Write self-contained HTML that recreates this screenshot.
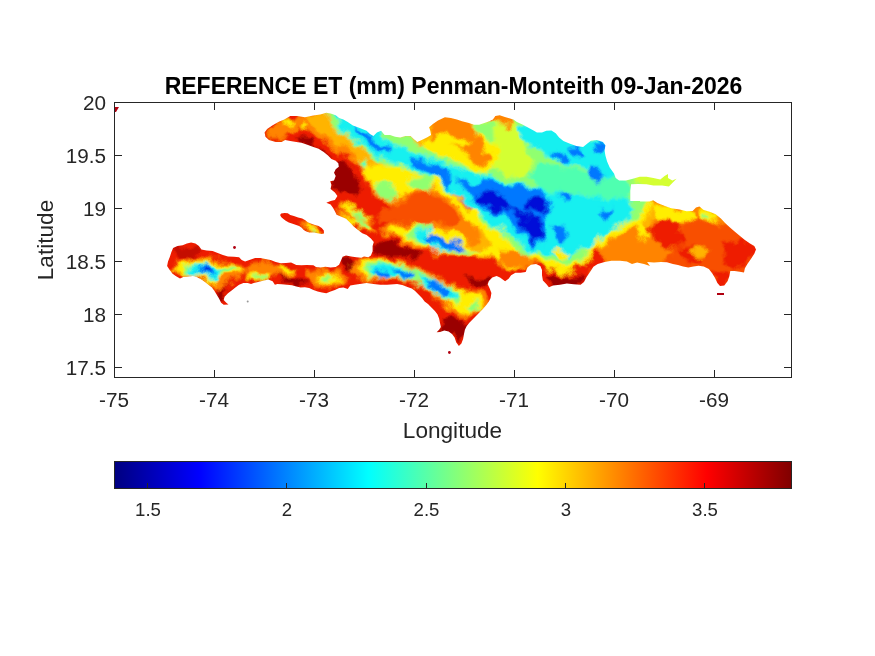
<!DOCTYPE html>
<html><head><meta charset="utf-8">
<style>
html,body{margin:0;padding:0;background:#fff;}
body{width:875px;height:656px;overflow:hidden;position:relative;font-family:"Liberation Sans",sans-serif;}
svg{position:absolute;left:0;top:0;}
text{font-family:"Liberation Sans",sans-serif;fill:#262626;}
.tk{font-size:20.7px;}
.cb{font-size:18.6px;}
.lb{font-size:22.6px;}
.tt{font-size:23px;font-weight:bold;fill:#000;}
</style></head><body>
<svg width="875" height="656" viewBox="0 0 875 656">
<defs>
<linearGradient id="jet" x1="0" x2="1" y1="0" y2="0">
<stop offset="0" stop-color="#000080"/>
<stop offset="0.125" stop-color="#0000ff"/>
<stop offset="0.375" stop-color="#00ffff"/>
<stop offset="0.625" stop-color="#ffff00"/>
<stop offset="0.875" stop-color="#ff0000"/>
<stop offset="1" stop-color="#800000"/>
</linearGradient>
<filter id="bl" x="-5%" y="-5%" width="110%" height="110%"><feGaussianBlur stdDeviation="1.5" result="b"/><feTurbulence type="fractalNoise" baseFrequency="0.07" numOctaves="3" seed="7" result="t"/><feDisplacementMap in="b" in2="t" scale="14" xChannelSelector="R" yChannelSelector="G"/></filter>
</defs>
<rect width="875" height="656" fill="#fff"/>
<!--MAP-->
<g id="map">
<defs><clipPath id="land"><path d="M264.6 132.4 267.1 129 272.3 125.6 278.3 122.1 284.3 119.6 290.3 116.1 297.1 116.1 304.9 117.3 313.4 115.6 320.3 114.4 326.3 112.7 330.6 113.6 335.7 115.3 339.1 117.9 343.4 119.6 347.7 122.1 352.9 125.6 359.7 128.1 366.6 130.7 370 134.1 373.4 135.9 376.9 132.4 381.1 130.7 384.6 135 390.6 135 390 135 395.1 136.7 400.3 137.6 405.4 135.9 410.6 135.9 414 139.3 417.4 141.9 421.7 140.1 426.9 137.6 431.1 135 430.3 130.7 429.1 127.3 432.9 123.9 438 120.4 444.9 117.3 450.9 117.9 456.9 119.6 462 121.3 468.9 123 474 124.7 479.1 124.7 484.3 123 489.4 121.3 492.9 119.6 495.4 116.1 499.7 115.3 504.9 117 510 118.4 513.4 119.6 516.9 122.1 522.9 124.7 528.9 128.1 534 130.7 536.9 132.4 542 132.4 546.3 130.7 551.4 130.4 555.7 133.3 559.1 137.6 563.4 141 569.4 143.6 576.3 146.1 583.1 147 587.4 143.6 590.9 140.7 596.9 140.1 602.9 141.9 605.4 145.3 604.6 150.4 605.4 155.6 607.1 161.6 609.7 167.6 614 173.6 615.7 177.9 619.1 180.4 626 180.4 632.9 178.7 639.7 176.7 646.6 176.7 653.4 177.9 660.3 179.6 664.6 176.1 668 173.9 668 177.9 672.3 180.4 676.6 178.7 672.3 183 668.9 186.4 662 185.6 653.4 185.6 646.6 184.2 638 183.9 631.1 184.2 630.3 190.7 630.3 201 639.7 201 640.3 201.4 649.7 201.4 653.1 200.2 657.4 203.1 664.3 205.7 671.1 208.3 679.7 209.5 686.6 211.2 692.6 210.9 696 207.4 699.4 206.6 703.7 210 709.7 211.7 715.7 214.3 720.9 218.6 725.1 222.9 729.4 227.1 734.6 231.4 739.7 235.7 744.9 240 750 243.4 754.3 246 756 249.4 754.3 253.7 750.9 258.9 747.4 264 744.9 268.3 744 272.6 739.7 271.7 734.6 270.9 730.3 270.9 729.4 276 727.7 281.1 724.3 285.4 720 285.9 717.4 282.9 714.9 277.7 712.3 273.4 708.9 269.1 703.7 266.6 698.6 265.7 693.4 266.6 688.3 267.4 683.1 266.6 678 264.9 672.9 264 666.9 262.3 660.9 261.9 654 262.6 647.1 261.9 650 265.9 644 264.1 637.1 262.4 632 264.1 626.9 261.6 620 260.7 611.4 260.7 604.6 261.9 597.7 264.1 593.4 266.7 590 271.9 586.6 277 584 282.1 580.6 284.7 573.7 284.2 566.9 283.5 560 284.7 553.1 285.6 548.9 287.3 546.3 283.9 542.9 280.4 542 275.3 542 270.1 540.3 265.9 536 264.1 530.9 264.7 527.4 267.6 525.7 271.9 520.6 272.7 515.4 272.7 511.1 275.3 508.6 278.7 505.1 281.3 503.4 280 500 277.4 496.6 276.1 492.3 277.4 488.9 280.9 487.7 284.3 489.7 288.6 491.4 292.9 490.6 298 488.9 301.4 486.3 304.9 482.9 309.1 479.4 312.6 476 316 472.6 319.4 469.1 322.9 466.6 326.3 464.9 329.7 464 334 463.1 339.1 461.4 343.4 458.9 346 456.3 342.6 454.6 337.4 452 334 448.6 331.4 444.3 330.6 440 331.9 436.6 332.3 439.1 329.7 440.9 327.1 440 322.9 439.1 318.6 437.4 314.3 434.9 310.9 431.4 307.4 428 304 424.6 301.4 422 298 418.6 294.6 415.1 291.1 411.7 288.6 407.4 286.9 402.3 285.1 397.1 283.9 394 284.2 387.1 284.7 380.3 284.7 373.4 283.9 366.6 283 359.7 283.9 354.6 284.7 350.3 285.6 347.7 289 343.4 287.6 339.1 288.1 334.9 289.9 330.6 291.6 326.3 293.3 322 292.4 317.7 291.6 313.4 289.9 309.1 288.1 304.9 287.3 300.6 287.6 296.3 286.4 292 285.2 286.9 284.7 281.7 284.2 277.4 283.9 274.9 284.7 272.6 281.3 268.3 279.6 263.1 280.8 258 282.1 253.7 283 251.1 283.9 247.7 283 243.4 283 239.1 284.7 235.7 287.3 232.3 289.9 228 293.3 224.6 296.7 223.7 300.1 226.3 302.7 228.5 304.4 223.7 304.8 221.1 302.7 219.4 299.3 216.9 295 214.3 290.7 211.7 287.3 208.3 284.7 204.9 282.1 201.4 279.6 197.1 277.3 192.9 276.1 187.7 276.7 183.4 277 180 278.4 175.7 276.1 172.3 273.6 169.7 270.1 167.1 265.9 168 261.6 169.7 257.3 171.4 252.1 173.1 247.9 177.4 246.1 182.6 245.3 186.9 243.6 191.1 242.4 195.4 243.6 198.9 246.1 201.4 249.6 206.6 250.4 212.6 250.9 217.7 253 222.9 255.1 228 256.4 234 256.8 239.1 257.3 241.7 259.9 245.1 261.6 249.4 259.9 255.1 258.1 260.3 258.1 265.4 259 270.6 259.9 275.7 261.9 280.9 263.3 286 262.9 291.1 262.4 296.3 265 301.4 265.3 306.6 265 313.4 265.3 316 267.1 320.3 267.6 325.4 266.7 330.6 267.6 335.7 267.1 339.1 264.7 340.9 260.7 342.6 256.8 346 255.6 351.1 256.4 356.3 257.3 361.4 257.8 364 256.4 368.3 257.3 370.9 255.6 372.6 251.3 372.6 246.1 373.8 241.9 370.9 238.4 366.6 235 362.3 233.3 358 229.9 353.7 226.4 349.4 222.1 346 218.7 336.6 214.7 334.9 211.3 333.1 207.9 330.6 204.4 326.3 202.7 330.6 201 334.9 200.1 337.4 195.9 334.9 192.4 330.6 189 331.4 184.7 330.2 181.3 334 180.4 335.7 176.1 334 172.7 335.7 169.3 338.8 166.7 338.3 163.3 335.7 160.7 331.4 159 328 155.6 323.7 152.1 318.6 148.7 313.4 147 306.6 144.4 301.4 142.7 296.3 141.9 290.3 141 285.1 140.1 281.7 141.9 275.7 141.9 268.9 140.1 265.4 136.7Z"/><path d="M280.1 215.1 281.1 213.5 284.7 213 287.8 213.3 290.3 215.1 293.9 216.1 298.1 217.4 302.2 218.5 305.3 220.2 307.8 222.3 311.4 223.8 315 225 318.6 225.9 321.7 227.9 323.8 230.5 324 233.6 321.7 233.9 317.6 233.3 313.5 232.5 309.4 232.5 306.3 231.5 303.7 230 301.7 227.7 299.1 225.9 295.5 224.8 291.9 223.6 288.8 222.6 285.7 220.7 283.1 218.7 281.1 217.1Z"/></clipPath></defs>
<g clip-path="url(#land)">
<g filter="url(#bl)">
<rect x="140" y="95" width="640" height="280" fill="#ee1c00"/>
<path fill="#9a0000" d="M334.6 159.4 346 161.7 352.9 170.9 359.7 182.3 364.3 191.4 357.4 196 346 193.7 334.6 191.4 330 185.7 333.4 177.7 335.7 168.6Z"/>
<path fill="#9a0000" d="M373.4 244 387.1 239.4 405.4 246.3 410 249.9 373.4 249.9Z"/>
<path fill="#9a0000" d="M295.7 136.6 309.4 140 323.1 149.1 332.3 157.1 325.4 156 314 149.1 300.3 143.4Z"/>
<path fill="#9a0000" d="M278 276.3 296.3 278.6 310 285.4 296.3 285.4 282.6 283.1Z"/>
<path fill="#9a0000" d="M339.7 258 350 255.7 350 269.4 342 267.1Z"/>
<path fill="#9a0000" d="M218.6 287.7 227.7 285.4 225.4 301.4 220.9 299.1Z"/>
<path fill="#9a0000" d="M373.4 242 394 242 407.7 248.9 421.4 255.7 416.9 260.3 398.6 255.7 384.9 255.7 373.4 252.3Z"/>
<path fill="#9a0000" d="M339.1 256.9 352.9 255.7 355.1 264.9 343.7 267.1Z"/>
<path fill="#9a0000" d="M442 319.7 458 317.4 467.1 324.3 460.3 344.9 453.4 333.4 439.7 331.1Z"/>
<path fill="#9a0000" d="M462.6 276.3 487.7 276.3 487.7 287.7 471.7 285.4Z"/>
<path fill="#9a0000" d="M546.3 276.3 582.9 275.1 580.6 285.4 548.6 287.7Z"/>
<path fill="#c40a00" d="M172.9 248.9 191.1 244.3 202.6 248.9 195.7 258 177.4 260.3Z"/>
<path fill="#ff8400" d="M630 199.1 790 199.1 790 299.9 590 299.9 590 250.6 603.7 241.4 617.4 232.3 631.1 225.4 642.6 218.6 647.1 209.4 643.7 201.4Z"/>
<path fill="#f85000" d="M681.4 225.4 697.4 218.6 718 223.1 738.6 225.4 790 225.4 790 299.9 658.6 299.9 658.6 264.3 672.3 250.6Z"/>
<path fill="#ee1c00" d="M649.4 227.7 665.4 225.4 681.4 232.3 686 241.4 676.9 248.3 663.1 246 654 239.1Z"/>
<path fill="#ee1c00" d="M722.6 243.7 740.9 238 763.7 248.3 747.7 264.3 736.3 268.9 724.9 259.7Z"/>
<path fill="#ee1c00" d="M711.1 271.1 730.6 272.3 727.1 291.7 713.4 291.7Z"/>
<path fill="#ee1c00" d="M679.1 248.3 692.9 244.9 704.3 252.9 697.4 264.3 683.7 259.7Z"/>
<path fill="#ee1c00" d="M590 250.6 601.4 252.9 606 262 596.9 268.9 590 268.9Z"/>
<path fill="#ee1c00" d="M649.1 224.9 662.9 220.3 680 222.6 680 245.4 662.9 245.4 651.4 238.6Z"/>
<path fill="#ff8400" d="M264.9 133.1 275.1 124 288.9 117.1 302.6 116 307.1 122.9 299.1 128.6 291.1 134.3 282 140 270.6 140Z"/>
<path fill="#ff8400" d="M311.7 100 316.3 122.9 318.6 132 327.7 141.1 339.1 149.1 348.3 157.1 357.4 166.3 364.3 175.4 368.9 184.6 373.4 193.7 380.3 200.6 391.7 205.1 405.4 202.9 419.1 200.6 432.9 198.3 450 196 450 100Z"/>
<path fill="#ff8400" d="M338 202.9 348.3 204 359.7 210.9 371.1 217.7 374.6 223.4 364.3 224.6 352.9 217.7 341.4 209.7Z"/>
<path fill="#ff8400" d="M378 228 391.7 223.4 410 224.6 428.3 226.9 450 223.4 450 249.9 414.6 249.9 398.6 239.4 387.1 234.9Z"/>
<path fill="#ff8400" d="M170.6 267.1 179.7 262.6 195.7 259.1 216.3 258.5 230 261.4 243.7 264.9 244.9 271.7 239.1 278.6 227.7 283.1 216.3 287.7 207.1 285.4 200.3 278.6 188.9 275.1 177.4 275.1 170.6 272.9Z"/>
<path fill="#ff8400" d="M246 263.7 264.3 261.4 278 264.9 291.7 267.1 296.3 272.9 287.1 276.3 273.4 275.1 268.9 278.6 259.7 282 250.6 280.9 246 275.1Z"/>
<path fill="#ff8400" d="M307.7 274 319.1 269.4 332.9 270.6 344.3 276.3 346.6 283.1 337.4 286.6 326 287.7 314.6 285.4 307.7 280.9Z"/>
<path fill="#ff8400" d="M336.9 211.1 348.3 213.4 359.7 219.1 371.1 226 375.7 232.9 368.9 234 357.4 227.1 346 221.4 336.9 216.9Z"/>
<path fill="#ff8400" d="M384.9 210 398.6 219.1 407.7 228.3 416.9 232.9 405.4 235.1 403.1 239.7 416.9 246.6 430.6 252.3 448.9 254.6 467.1 255.7 485.4 258 499.1 264.9 512.9 270.6 530 267.1 530 210Z"/>
<path fill="#ff8400" d="M352.9 262.6 366.6 259.1 384.9 258 403.1 261.4 416.9 267.1 430.6 274 444.3 280.9 458 287.7 471.7 290 485.4 292.3 490 299.1 485.4 308.3 476.3 315.1 464.9 317.4 453.4 312.9 442 303.7 430.6 294.6 419.1 286.6 407.7 282 394 280.9 380.3 282 366.6 280.9 355.1 276.3 350.6 269.4Z"/>
<path fill="#ff8400" d="M330 271.7 339.1 270.6 346 276.3 343.7 283.1 330 285.4Z"/>
<path fill="#ff8400" d="M301.1 218.7 305.3 220.2 311.4 223.8 318.6 225.9 323.8 230.5 324 234.1 313.5 233.1 306.3 231.5 301.7 227.7Z"/>
<path fill="#ff8400" d="M298 117 326.3 112.7 330.6 123.9 339.1 134.1 346 144.4 352.9 154.7 346 156.4 335.7 147.9 325.4 141 315.1 135.9 304.9 130.7 298.9 123.9Z"/>
<path fill="#ffb400" d="M318.6 100 325.4 125.1 334.6 136.6 346 145.7 355.1 154.9 362 166.3 368.9 177.7 374.6 189.1 381.4 197.1 391.7 200.6 400.9 197.1 410 191.4 419.1 190.3 430.6 192.6 439.7 191.4 450 190.3 450 100Z"/>
<path fill="#ffb400" d="M644.9 200.3 658.6 203.7 672.3 208.3 690.6 209.9 692.9 218.6 681.4 222 667.7 218.6 656.3 216.3 647.1 225.4 649.4 236.9 640.3 241.4 634.6 232.3 638 218.6Z"/>
<path fill="#ffb400" d="M310 117 326.3 113.6 329.7 123.9 337.4 134.1 344.3 143.6 339.1 145.3 328.9 137.6 318.6 130.7 311.7 123.9Z"/>
<path fill="#ffee00" d="M294.6 121 294 122.7 292.3 124 290 124.5 287.7 124 286 122.7 285.4 121 286 119.3 287.7 118.1 290 117.6 292.3 118.1 294 119.3Z"/>
<path fill="#ffee00" d="M308.1 127.4 307.6 128.8 306.5 129.8 304.9 130.2 303.3 129.8 302.1 128.8 301.7 127.4 302.1 126.1 303.3 125.1 304.9 124.7 306.5 125.1 307.6 126.1Z"/>
<path fill="#ffee00" d="M364.3 168.6 380.3 164 396.3 165.1 414.6 173.1 432.9 183.4 450 191.4 450 196 439.7 191.4 430.6 192.6 419.1 190.3 410 191.4 400.9 197.1 391.7 200.6 381.4 197.1 374.6 189.1 368.9 177.7Z"/>
<path fill="#ffee00" d="M341.4 204 350.6 206.3 362 213.1 370 218.9 368.9 222.3 357.4 217.7 346 209.7Z"/>
<path fill="#ffee00" d="M387.1 231.4 398.6 226.9 414.6 228 432.9 229.1 450 226.9 450 246.3 432.9 248.6 419.1 246.3 405.4 239.4Z"/>
<path fill="#ffee00" d="M697.4 208.3 711.1 210.6 718 218.6 708.9 223.1 699.7 219.7Z"/>
<path fill="#ffb400" d="M690.6 248.3 704.3 247.1 708.9 255.1 697.4 259.7Z"/>
<path fill="#ffee00" d="M590 150 644.9 150 644.9 201.4 649.4 211.7 642.6 220.9 631.1 227.7 617.4 234.6 603.7 243.7 590 252.9Z"/>
<path fill="#ffee00" d="M172.9 268.3 182 264.9 195.7 262.1 209.4 261.4 223.1 263 239.1 264.9 242.6 269.4 236.9 272.9 223.1 274 216.3 278.6 214 285.4 208.3 284.3 201.4 277.4 191.1 274 179.7 274 172.9 271.7Z"/>
<path fill="#ffee00" d="M248.3 274 257.4 271.7 268.9 274 266.6 278.6 257.4 280.9 250.6 279.7Z"/>
<path fill="#ffee00" d="M314.6 278.6 323.7 272.9 335.1 275.1 342 280.9 332.9 284.3 321.4 283.1Z"/>
<path fill="#ffee00" d="M278 267.1 289.4 266 294 270.6 284.9 272.9Z"/>
<path fill="#ffee00" d="M341.4 213.4 352.9 216.9 364.3 222.6 372.3 229.4 366.6 230.6 355.1 223.7 343.7 218Z"/>
<path fill="#ffee00" d="M405.4 226 421.4 221.4 439.7 219.1 458 216.9 467.1 210 530 210 530 264.9 512.9 268.3 499.1 262.6 485.4 255.7 467.1 253.4 448.9 252.3 430.6 248.9 416.9 244.3 405.4 237.4Z"/>
<path fill="#ffee00" d="M359.7 263.7 375.7 260.3 394 261.4 407.7 266 421.4 272.9 435.1 279.7 448.9 286.6 462.6 290 476.3 294.6 483.1 301.4 478.6 310.6 467.1 314 455.7 308.3 444.3 300.3 432.9 291.1 421.4 283.1 407.7 278.6 394 277.4 380.3 278.6 366.6 277.4 358.6 271.7Z"/>
<path fill="#ffee00" d="M480 245.4 491.4 247.7 502.9 250 516.6 254.6 530.3 259.1 539.4 263.7 548.6 270.6 562.3 272.9 576 270.6 587.4 261.4 594.3 250 603.4 243.1 614.9 234 626.3 227.1 637.7 222.6 646.9 213.4 651.4 202 651.4 170 480 170Z"/>
<path fill="#ffee00" d="M305.3 223.8 311.4 225.9 317.6 227.9 321.7 231 317.6 232.5 311.4 231.5 306.3 228.9Z"/>
<path fill="#ffee00" d="M651.7 203.7 672.3 208.3 690.6 210.6 694 218.6 681.4 222.7 667.7 219.7 654 216.3Z"/>
<path fill="#ffee00" d="M636.9 220.9 647.1 225.4 648.3 235.7 640.3 240.3 635.7 232.3Z"/>
<path fill="#ff8400" d="M398.6 210 471.7 210 467.1 219.1 453.4 223.7 437.4 226 421.4 222.6 407.7 219.1Z"/>
<path fill="#90ff70" d="M325.4 100 352.9 100 391.7 133.1 410 137.7 419.1 145.7 432.9 149.1 450 152.6 450 191.4 437.4 186.9 426 180 414.6 173.1 403.1 168.6 391.7 165.1 380.3 161.7 371.1 157.1 362 150.3 352.9 143.4 341.4 134.3 330 122.9Z"/>
<path fill="#90ff70" d="M374.6 184.6 387.1 181.1 396.3 186.9 398.6 196 391.7 200.6 381.4 198.3 375.7 191.4Z"/>
<path fill="#90ff70" d="M405.4 180 423.7 177.7 437.4 184.6 432.9 191.4 416.9 190.3 407.7 186.9Z"/>
<path fill="#90ff70" d="M350.6 209.7 362 214.3 368.9 220 362 221.1 352.9 215.4Z"/>
<path fill="#90ff70" d="M405.4 232.6 423.7 230.3 450 231.4 450 246.3 432.9 246.3 416.9 241.7Z"/>
<path fill="#90ff70" d="M430 141.1 498.6 122.9 521.4 100 630 100 630 214.3 622 218.9 610.6 228 599.1 239.4 590 249.9 530.6 249.9 526 246.3 512.3 237.1 498.6 228 484.9 218.9 471.1 207.4 457.4 196 443.7 184.6 430 175.4Z"/>
<path fill="#90ff70" d="M709.1 217 708.6 218.3 707.3 219.3 705.4 219.7 703.6 219.3 702.3 218.3 701.8 217 702.3 215.6 703.6 214.6 705.4 214.2 707.3 214.6 708.6 215.6Z"/>
<path fill="#90ff70" d="M590 138.6 686 138.6 686 190 649.4 190 649.4 199.1 642.6 202.6 639.1 214 628.9 220.9 617.4 227.7 603.7 236.9 590 246Z"/>
<path fill="#90ff70" d="M182 269.4 193.4 264.9 207.1 263.7 220.9 266 234.6 266 239.1 269 227.7 271.7 218.6 274 215.1 280.9 210.6 282 203.7 276.3 193.4 272.9 184.3 272.9Z"/>
<path fill="#90ff70" d="M252.9 275.1 264.3 274 264.3 278.6 255.1 278.6Z"/>
<path fill="#90ff70" d="M319.1 278.6 327.1 275.1 335.1 278.6 328.3 281.3Z"/>
<path fill="#90ff70" d="M350.6 216.9 362 221.4 370 228.3 364.3 228.3 355.1 222.6Z"/>
<path fill="#90ff70" d="M407.7 228.3 426 223.7 444.3 224.9 464.9 229.4 478.6 238.6 482 250 467.1 253.4 451.1 251.6 435.1 249.3 418 243.1 406.6 235.6Z"/>
<path fill="#90ff70" d="M478.6 210 490 219.1 499.1 230.6 510.6 244.3 524.3 258 530 262.6 530 210Z"/>
<path fill="#90ff70" d="M364.3 267.1 380.3 262.6 396.3 263.7 411.1 267.6 424.9 274.5 438.6 281.3 452.3 288.2 462.6 296.9 459.1 303.7 445.4 300.3 431.7 292.3 418 284.3 405.4 279.7 391.7 278.6 375.7 279.7 364.3 275.1Z"/>
<path fill="#90ff70" d="M467.1 303.7 476.3 301.4 478.6 310.6 470.6 311.7Z"/>
<path fill="#90ff70" d="M480 224.9 493.7 227.1 507.4 234 518.9 243.1 530.3 250 541.7 259.1 555.4 263.7 571.4 266 582.9 261.4 589.7 250 598.9 240.9 610.3 231.7 621.7 223.7 633.1 220.3 640 215.7 644.6 206.6 649.1 199.7 630.9 199.7 630.9 170 480 170Z"/>
<path fill="#90ff70" d="M316.3 230.5 316 231.2 315.1 231.7 314 231.9 312.9 231.7 312 231.2 311.7 230.5 312 229.8 312.9 229.2 314 229 315.1 229.2 316 229.8Z"/>
<path fill="#90ff70" d="M369.1 164.1 368.5 166.4 366.6 168 364 168.6 361.4 168 359.5 166.4 358.9 164.1 359.5 161.9 361.4 160.3 364 159.7 366.6 160.3 368.5 161.9Z"/>
<path fill="#d4ff30" d="M635.7 163.7 686 163.7 686 190 635.7 190Z"/>
<path fill="#d4ff30" d="M430 100 471.1 100 489.4 121.7 516.9 122.9 521.4 132 526 145.7 530.6 159.4 528.3 173.1 521.4 177.7 507.7 175.4 496.3 168.6 482.6 166.3 468.9 161.7 452.9 152.6 439.1 145.7 430 143.4Z"/>
<path fill="#50ffb0" d="M537.4 164 567.1 166.3 590 173.1 630 182.3 630 198.3 590 196 567.1 191.4 553.4 191.4 539.7 189.1 528.3 177.7Z"/>
<path fill="#ffee00" d="M424.3 139.3 441.4 134.1 467.1 135.9 492.9 144.4 499.7 161.6 489.4 173.6 472.3 170.1 455.1 161.6 438 154.7 424.3 147.9Z"/>
<path fill="#ffee00" d="M430 122.9 452.9 127.4 471.1 129.7 484.9 134.3 496.3 143.4 498.6 157.1 496.3 168.6 482.6 168.6 468.9 162.9 452.9 153.7 439.1 145.7 430 143.4Z"/>
<path fill="#90ff70" d="M473.4 121.7 494 122.9 496.3 138.9 484.9 140 475.7 132Z"/>
<path fill="#ff8400" d="M430 125.1 430 100 468.9 100 473.4 127.4 475.7 136.6 484.9 145.7 489.4 154.9 491.7 164 482.6 166.3 473.4 160.6 464.3 154.9 455.1 145.7 443.7 138.9 430 138.9Z"/>
<path fill="#ff8400" d="M491.7 118.3 498.6 110.3 507.7 113.7 514.6 122.9 507.7 126.3 496.3 124Z"/>
<path fill="#ffee00" d="M432.3 136.6 446 134.3 462 137.7 472.3 144.6 464.3 148 450.6 142.3 436.9 142.3Z"/>
<path fill="#18f0f0" d="M330 100 373.4 122.9 387.1 141.1 400.9 145.7 414.6 152.6 432.9 159.4 450 164 450 189.1 437.4 182.3 423.7 175.4 410 168.6 396.3 162.9 382.6 158.3 371.1 153.7 362 146.9 350.6 138.9 339.1 129.7Z"/>
<path fill="#18f0f0" d="M423.7 233.7 450 234.9 450 244 432.9 242.9Z"/>
<path fill="#18f0f0" d="M516.9 129.7 530.6 122.9 548.9 122.9 567.1 134.3 590 136.6 608.3 141.1 615.1 175.4 603.7 177.7 590 170.9 576.3 166.3 562.6 164 548.9 157.1 532.9 145.7 521.4 138.9Z"/>
<path fill="#18f0f0" d="M430 154.9 448.3 164 466.6 170.9 484.9 175.4 503.1 180 521.4 184.6 539.7 189.1 553.4 191.4 567.1 191.4 585.4 196 603.7 198.3 630 196 630 214.3 622 218.9 610.6 228 599.1 239.4 590 249.9 530.6 249.9 526 246.3 512.3 237.1 498.6 228 484.9 218.9 471.1 207.4 457.4 196 443.7 184.6 430 175.4Z"/>
<path fill="#18f0f0" d="M590 138.6 616.3 138.6 616.3 170.6 618.6 182 619.7 195.7 628.9 202.6 635.7 207.1 628.9 218.6 615.1 227.7 601.4 236.9 590 243.7Z"/>
<path fill="#18f0f0" d="M186.6 270.6 196.9 265.5 209.4 263.9 220.9 267.6 218.1 274.5 214 281.3 208.3 279.9 202.1 275.1 192.3 273.5Z"/>
<path fill="#18f0f0" d="M414.6 231 430.6 227.8 448.9 230.6 468.3 236.3 477.4 246.6 466 251.1 448.9 249.3 432.9 245.9 416.9 239.3Z"/>
<path fill="#18f0f0" d="M490 210 501.4 223.7 512.9 237.4 524.3 248.9 530 253.4 530 210Z"/>
<path fill="#18f0f0" d="M368.9 269.9 384.9 265.5 398.6 266.7 412.3 271.3 410 278.6 394 277.4 380.3 278.6 370 276.3Z"/>
<path fill="#18f0f0" d="M418 276.3 432.9 279.7 447.7 287.3 458 296.9 450 300.3 434 292.3 421.4 285.4Z"/>
<path fill="#18f0f0" d="M480 215.7 493.7 219.1 507.4 226 518.9 235.1 530.3 243.1 541.7 252.3 555.4 256.9 571.4 258 580.6 252.3 587.4 243.1 596.6 235.1 608 226 619.4 219.1 628.6 213.4 629.9 196.1 603.4 198.1 585.1 196.1 566.9 191.3 553.1 191.3 539.4 189.2 521.1 184.6 502.9 180.1 480 174.6Z"/>
<path fill="#18f0f0" d="M366.7 164.7 366.4 165.6 365.6 166.3 364.5 166.5 363.4 166.3 362.6 165.6 362.3 164.7 362.6 163.7 363.4 163 364.5 162.8 365.6 163 366.4 163.7Z"/>
<path fill="#90ff70" d="M619.7 179.7 631.1 180.9 642.6 184.3 641.4 201.4 630 200.3 620.9 193.4Z"/>
<path fill="#50ffb0" d="M585.4 171.7 619.7 179.7 630 182 630 199.1 590 196.9 585.4 195.7Z"/>
<path fill="#ffee00" d="M430 177.7 441.4 184.6 455.1 196 468.9 209.7 482.6 223.4 494 234.9 498.6 246.3 487.1 249.9 430 249.9Z"/>
<path fill="#ffee00" d="M553.1 250 564.6 247.7 569.1 256.9 560 260.3Z"/>
<path fill="#ffb400" d="M466.6 218.9 480.3 230.3 491.7 239.4 494 248.6 475.7 249.9 464.3 237.1Z"/>
<path fill="#ff8400" d="M430 186.9 443.7 193.7 457.4 205.1 466.6 218.9 475.7 228 479.1 239.4 468.9 246.3 464.3 237.1 452.9 230.3 430 230.3Z"/>
<path fill="#ff8400" d="M500 249.6 517.1 251.3 530.9 258.1 537.7 263.3 525.7 266.7 510.3 265 500 263.3Z"/>
<path fill="#f85000" d="M399.1 201.5 409.4 196 430 191.4 439.1 196 452.9 207.4 459.7 216.6 455.1 223.4 443.7 225.7 430 223.4 404.4 223.4 388.9 222.3 377.4 218.9 377.4 209.7 390.7 206.5Z"/>
<path fill="#18f0f0" d="M430 237.1 443.7 239.4 455.1 246.3 452.9 249.9 430 249.9Z"/>
<path fill="#0078ff" d="M350.6 125.1 364.3 132 378 143.4 391.7 148 387.1 152.6 373.4 149.1 362 138.9Z"/>
<path fill="#0078ff" d="M410 157.1 428.3 161.7 450 168.6 450 186.9 432.9 177.7 414.6 166.3Z"/>
<path fill="#0078ff" d="M430.6 240.6 450 241.7 450 245.1 432.9 244Z"/>
<path fill="#0078ff" d="M553.4 152.6 564.9 151.4 567.1 160.6 558 161.7Z"/>
<path fill="#0078ff" d="M569.4 149.1 583.1 148 585.4 156 574 157.1Z"/>
<path fill="#0078ff" d="M592.3 142.3 603.7 142.3 604.9 151.4 594.6 151.4Z"/>
<path fill="#0078ff" d="M590 168.6 603.7 170.9 601.4 178.9 592.3 176.6Z"/>
<path fill="#0078ff" d="M452.9 175.4 471.1 186.9 482.6 180 498.6 184.6 516.9 191.4 532.9 196 548.9 196 551.1 207.4 544.3 218.9 539.7 232.6 535.1 241.7 526 237.1 516.9 228 505.4 216.6 491.7 212 478 202.9 464.3 191.4Z"/>
<path fill="#0078ff" d="M553.4 228 560.3 223.4 567.1 237.1 560.3 244Z"/>
<path fill="#0078ff" d="M560.3 191.4 571.7 192.6 570.6 200.6 561.4 200.6Z"/>
<path fill="#0078ff" d="M590 168.3 601.4 172.9 599.1 184.3 590 182Z"/>
<path fill="#0078ff" d="M601.4 207.1 612.9 209.4 608.3 218.6 599.1 216.3Z"/>
<path fill="#0078ff" d="M196.9 269 207.1 264.9 215.1 269.9 210.6 276.7 203 274Z"/>
<path fill="#0078ff" d="M423.7 237 439.7 237.4 459.1 242 467.1 248.4 453.4 249.3 437.4 246.1 424.9 242.5Z"/>
<path fill="#0078ff" d="M499.1 210 512.9 223.7 524.3 237.4 530 244.3 530 210Z"/>
<path fill="#0078ff" d="M394 270.6 407.7 269 414.1 275.1 403.1 278.6Z"/>
<path fill="#0078ff" d="M373.4 274 387.1 271.3 390.6 277.4 376.9 279.7Z"/>
<path fill="#0078ff" d="M424.9 280.4 437.4 281.3 448.9 291.1 440.9 295 429.4 287.7Z"/>
<path fill="#0078ff" d="M480 179.1 507.4 183.7 532.6 189.4 548.6 195.1 550.9 206.6 544 215.7 546.3 229.4 541.7 243.1 532.6 245.4 523.4 236.3 514.3 227.1 502.9 218 489.1 211.1 480 208.9Z"/>
<path fill="#0078ff" d="M553.1 224.9 560 222.6 562.3 238.6 555.4 238.6Z"/>
<path fill="#0078ff" d="M603.4 208.9 612.6 206.6 610.3 218 603.4 219.1Z"/>
<path fill="#0010d8" d="M475.7 196 489.4 191.4 503.1 198.3 512.3 207.4 505.4 214.3 491.7 209.7 480.3 202.9Z"/>
<path fill="#0010d8" d="M526 200.6 544.3 198.3 548.9 207.4 542 214.3 530.6 209.7Z"/>
<path fill="#0010d8" d="M530.6 223.4 542 228 539.7 239.4 530.6 234.9Z"/>
<path fill="#0010d8" d="M209.4 270.6 209 271.8 207.9 272.7 206.5 273.1 205 272.7 203.9 271.8 203.5 270.6 203.9 269.3 205 268.4 206.5 268.1 207.9 268.4 209 269.3Z"/>
<path fill="#0010d8" d="M508.3 210 530 223.7 530 210Z"/>
<path fill="#0010d8" d="M486.9 195.1 502.9 192.9 509.7 204.3 500.6 211.1 489.1 206.6Z"/>
<path fill="#0010d8" d="M525.7 199.7 546.3 197.4 548.6 206.6 537.1 211.1 525.7 206.6Z"/>
<path fill="#0010d8" d="M518.9 220.3 539.4 218 544 234 534.9 243.1 525.7 234Z"/>
</g>
</g>
<g fill="#b00010"><rect x="717" y="293" width="7" height="2"/><circle cx="449.4" cy="352.5" r="1.4"/><circle cx="234.5" cy="247.5" r="1.4"/><path d="M115 107h4l-3 5h-1z"/></g>
<circle cx="247.7" cy="301.5" r="1" fill="#999"/>
</g>
<!--AXES-->
<g stroke="#262626" stroke-width="1" fill="none" shape-rendering="crispEdges">
<rect x="114.5" y="102.5" width="677" height="275"/>
<path d="M214.5 377v-7M314.5 377v-7M414.5 377v-7M514.5 377v-7M614.5 377v-7M714.5 377v-7"/>
<path d="M214.5 103v7M314.5 103v7M414.5 103v7M514.5 103v7M614.5 103v7M714.5 103v7"/>
<path d="M115 155.5h7M115 208.5h7M115 261.5h7M115 314.5h7M115 367.5h7"/>
<path d="M791 155.5h-7M791 208.5h-7M791 261.5h-7M791 314.5h-7M791 367.5h-7"/>
</g>
<text class="tt" x="453.500" y="94" text-anchor="middle">REFERENCE ET (mm) Penman-Monteith 09-Jan-2026</text>
<g class="tk" text-anchor="end">
<text x="106" y="110">20</text>
<text x="106" y="163">19.5</text>
<text x="106" y="216">19</text>
<text x="106" y="269">18.5</text>
<text x="106" y="322">18</text>
<text x="106" y="375">17.5</text>
</g>
<g class="tk" text-anchor="middle">
<text x="114" y="406.5">-75</text>
<text x="214" y="406.5">-74</text>
<text x="314" y="406.5">-73</text>
<text x="414" y="406.5">-72</text>
<text x="514" y="406.5">-71</text>
<text x="614" y="406.5">-70</text>
<text x="714" y="406.5">-69</text>
</g>
<text class="lb" x="452.500" y="438" text-anchor="middle">Longitude</text>
<text class="lb" transform="translate(53 240) rotate(-90)" text-anchor="middle">Latitude</text>
<!--COLORBAR-->
<rect x="114.5" y="461.500" width="677" height="27" fill="url(#jet)" stroke="#262626" stroke-width="1" shape-rendering="crispEdges"/>
<g stroke="#262626" stroke-width="1" shape-rendering="crispEdges">
<path d="M147.5 488v-5M286.500 488v-5M426.500 488v-5M565.500 488v-5M704.500 488v-5"/>
</g>
<g class="cb" text-anchor="middle">
<text x="148" y="516">1.5</text>
<text x="287" y="516">2</text>
<text x="426.500" y="516">2.5</text>
<text x="566" y="516">3</text>
<text x="705" y="516">3.5</text>
</g>
</svg>
</body></html>
